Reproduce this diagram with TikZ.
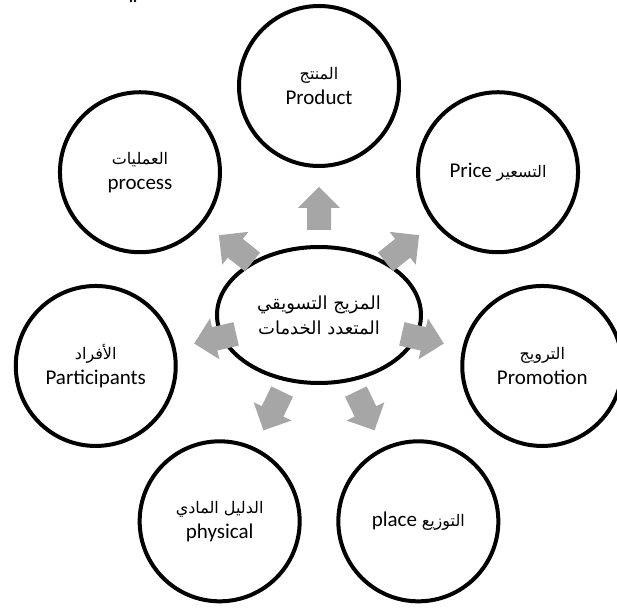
\documentclass[tikz,border=0pt]{standalone}
\usepackage{fontspec}
\setmainfont{Carlito}
\newfontfamily\arabicfont[Script=Arabic]{DejaVu Sans}
\TeXXeTstate=1
\usetikzlibrary{shapes.geometric}

\tikzset{
  hub/.style={ellipse, draw, line width=4pt, minimum width=204pt,
    minimum height=136pt, inner sep=0pt, align=center,
    font=\fontsize{18}{25}\selectfont\arabicfont},
  mixitem/.style={circle, draw, line width=4pt, minimum size=160pt,
    inner sep=0pt, align=center, font=\fontsize{21}{25}\selectfont},
  blockarrow/.style={fill=black!35},
}
\newcommand{\artext}[1]{{\arabicfont\fontsize{16}{20}\selectfont\beginR #1\endR}}

\begin{document}
\begin{tikzpicture}[x=1pt,y=1pt]
  \useasboundingbox (-319,-292) rectangle (298,315);

  % mitte
  \node[hub] (hub) at (0,0) {\beginR المزيج التسويقي\endR\\\beginR المتعدد الخدمات\endR};

  % die sieben elemente
  \node[mixitem] (product) at (90:229) {\artext{المنتج}\\Product};
  \node[mixitem] (price) at (38.57:229) {Price \artext{التسعير}};
  \node[mixitem] (promotion) at (-12.86:229) {\artext{الترويج}\\Promotion};
  \node[mixitem] (place) at (-64.29:229) {place \artext{التوزيع}};
  \node[mixitem] (physical) at (-115.71:229) {\artext{الدليل المادي}\\physical};
  \node[mixitem] (participants) at (192.86:229) {\artext{الأفراد}\\Participants};
  \node[mixitem] (process) at (141.43:229) {\artext{العمليات}\\process};

  % pfeile
  \foreach \a in {90,38.57,-12.86,-64.29,-115.71,192.86,141.43}
    \fill[blockarrow, rotate=\a] (85,-12) -- (107,-12) -- (107,-21)
      -- (128,0) -- (107,21) -- (107,12) -- (85,12) -- cycle;

  % rest oben
  \fill (-188,314) circle (1.3);
  \fill (-184,314) circle (1.3);
\end{tikzpicture}
\end{document}
